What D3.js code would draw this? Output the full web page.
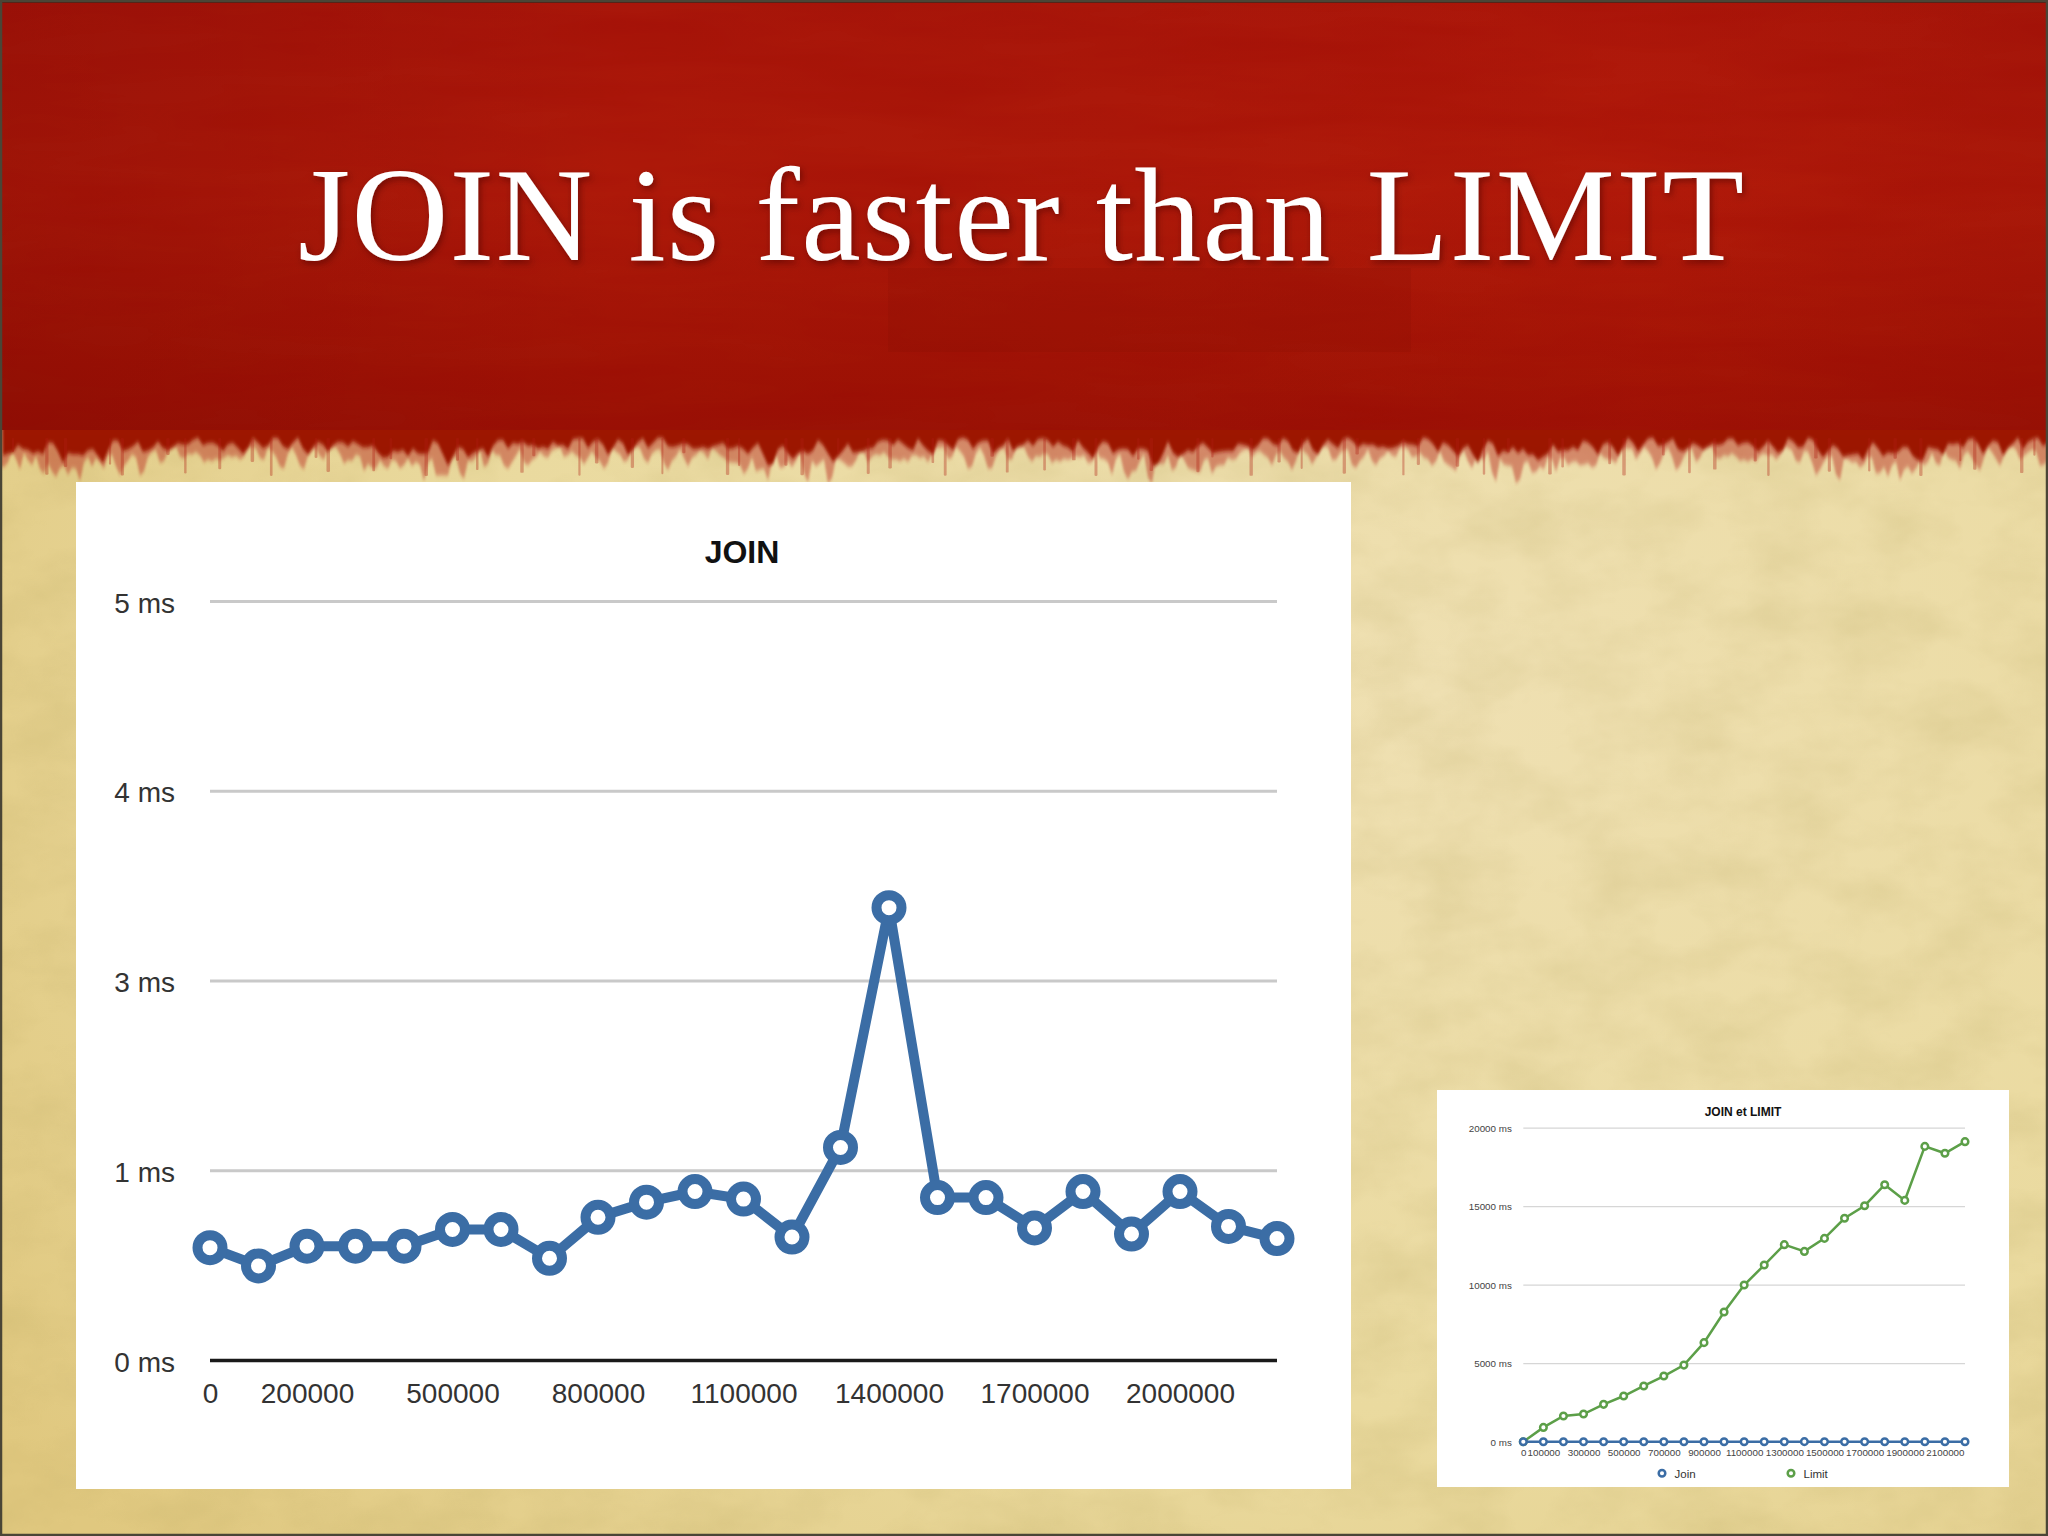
<!DOCTYPE html>
<html>
<head>
<meta charset="utf-8">
<script src="https://cdn.jsdelivr.net/npm/d3@7"></script>
<style>
  html, body { margin: 0; padding: 0; background: #000; }
  svg { display: block; }
</style>
</head>
<body>
<svg id="slide" width="2048" height="1536"></svg>
<script>
// ---------------- DATA ----------------
const slideTitle = "JOIN is faster than LIMIT";
const rowCounts = [0, 100000, 200000, 300000, 400000, 500000, 600000, 700000, 800000, 900000,
  1000000, 1100000, 1200000, 1300000, 1400000, 1500000, 1600000, 1700000, 1800000, 1900000,
  2000000, 2100000, 2200000];
const joinMs = [0.74, 0.62, 0.75, 0.75, 0.75, 0.86, 0.86, 0.67, 0.94, 1.04, 1.11, 1.06, 0.81,
  1.40, 2.98, 1.07, 1.07, 0.87, 1.11, 0.83, 1.11, 0.88, 0.80];
const limitMs = [0, 910, 1640, 1760, 2380, 2910, 3550, 4180, 4880, 6310, 8260, 9980, 11250,
  12550, 12120, 12950, 14230, 15030, 16370, 15370, 18810, 18370, 19110];

const mainTitle = "JOIN";
const mainYTicks = [0, 1.25, 2.5, 3.75, 5];
const mainYTickLabels = ["0 ms", "1 ms", "3 ms", "4 ms", "5 ms"];
const mainXTickLabels = [0, 200000, 500000, 800000, 1100000, 1400000, 1700000, 2000000];

const smallTitle = "JOIN et LIMIT";
const smallYTicks = [0, 5000, 10000, 15000, 20000];
const smallXTickLabels = [0, 100000, 300000, 500000, 700000, 900000, 1100000, 1300000,
  1500000, 1700000, 1900000, 2100000];
const seriesNames = ["Join", "Limit"];

// ---------------- STYLE ----------------
const BLUE = "#3b6da5";
const GREEN = "#5c9f48";
const svg = d3.select("#slide");
const defs = svg.append("defs");

const pg = defs.append("radialGradient").attr("id", "parch")
  .attr("cx", "70%").attr("cy", "45%").attr("r", "85%");
pg.append("stop").attr("offset", "0%").attr("stop-color", "#efe0b2");
pg.append("stop").attr("offset", "55%").attr("stop-color", "#eada9f");
pg.append("stop").attr("offset", "100%").attr("stop-color", "#e0c87f");

const rg = defs.append("linearGradient").attr("id", "redband")
  .attr("x1", 0).attr("y1", 0).attr("x2", 0).attr("y2", 1);
rg.append("stop").attr("offset", "0%").attr("stop-color", "#a8160a");
rg.append("stop").attr("offset", "45%").attr("stop-color", "#ae1a0a");
rg.append("stop").attr("offset", "85%").attr("stop-color", "#a01406");
rg.append("stop").attr("offset", "100%").attr("stop-color", "#9a1206");

const rgx = defs.append("linearGradient").attr("id", "redside")
  .attr("x1", 0).attr("y1", 0).attr("x2", 1).attr("y2", 0);
rgx.append("stop").attr("offset", "0%").attr("stop-color", "#5a0000").attr("stop-opacity", 0.18);
rgx.append("stop").attr("offset", "30%").attr("stop-color", "#5a0000").attr("stop-opacity", 0.0);
rgx.append("stop").attr("offset", "80%").attr("stop-color", "#ff3010").attr("stop-opacity", 0.05);
rgx.append("stop").attr("offset", "100%").attr("stop-color", "#5a0000").attr("stop-opacity", 0.06);

const nf = defs.append("filter").attr("id", "noise").attr("x", 0).attr("y", 0)
  .attr("width", "100%").attr("height", "100%");
nf.append("feTurbulence").attr("type", "fractalNoise").attr("baseFrequency", "0.012 0.02")
  .attr("numOctaves", 4).attr("seed", 7).attr("result", "t");
nf.append("feColorMatrix").attr("type", "matrix")
  .attr("values", "0 0 0 0 0.45  0 0 0 0 0.35  0 0 0 0 0.1  0 0 0 -1.6 1.05");

const nf2 = defs.append("filter").attr("id", "noise2").attr("x", 0).attr("y", 0)
  .attr("width", "100%").attr("height", "100%");
nf2.append("feTurbulence").attr("type", "fractalNoise").attr("baseFrequency", "0.004 0.03")
  .attr("numOctaves", 3).attr("seed", 3).attr("result", "t");
nf2.append("feColorMatrix").attr("type", "matrix")
  .attr("values", "0 0 0 0 0.3  0 0 0 0 0.0  0 0 0 0 0.0  0 0 0 -1.4 0.95");

const blur = defs.append("filter").attr("id", "soft").attr("x", "-2%").attr("y", "-50%")
  .attr("width", "104%").attr("height", "200%");
blur.append("feGaussianBlur").attr("stdDeviation", "1.2 2");

const sh = defs.append("filter").attr("id", "tshadow").attr("x", "-5%").attr("y", "-20%")
  .attr("width", "110%").attr("height", "140%");
sh.append("feDropShadow").attr("dx", 2).attr("dy", 3).attr("stdDeviation", 3)
  .attr("flood-color", "#3a0000").attr("flood-opacity", 0.5);

// ---------------- BACKGROUND ----------------
svg.append("rect").attr("width", 2048).attr("height", 1536).attr("fill", "url(#parch)");
svg.append("rect").attr("width", 2048).attr("height", 1536).attr("filter", "url(#noise)").attr("opacity", 0.2);

// red band with ragged bottom (decorative)
const bandBottom = 430;
function edgePath(base, amp, step, phase) {
  let p = `M0,0 L2048,0 L2048,${base}`;
  for (let x = 2048; x >= 0; x -= step) {
    const a = Math.abs(Math.sin(x * 0.137 + phase) * Math.sin(x * 0.041 + 1.3 + phase));
    const b = Math.max(0, Math.sin(x * 0.311 + 0.7 + phase));
    const c = Math.max(0, Math.sin(x * 0.0173 + 0.4)) * Math.abs(Math.sin(x * 0.53));
    const d = amp * (0.35 + 0.5 * a + 0.35 * b + 0.6 * c);
    p += ` L${x},${base + d}`;
  }
  return p + " Z";
}
// lighter fringe
svg.append("path").attr("d", edgePath(bandBottom + 6, 30, 4, 0.9)).attr("fill", "#b8281c")
  .attr("opacity", 0.45).attr("filter", "url(#soft)");
svg.append("path").attr("d", edgePath(bandBottom, 22, 5, 0)).attr("fill", "url(#redband)").attr("filter", "url(#soft)");
svg.append("rect").attr("width", 2048).attr("height", bandBottom).attr("fill", "url(#redband)");
svg.append("rect").attr("width", 2048).attr("height", bandBottom).attr("fill", "url(#redside)");
svg.append("rect").attr("width", 2048).attr("height", bandBottom).attr("filter", "url(#noise2)").attr("opacity", 0.25);
svg.append("rect").attr("x", 888).attr("y", 268).attr("width", 523).attr("height", 84)
  .attr("fill", "#6a0500").attr("opacity", 0.1);
// small drip streaks
for (let i = 0; i < 70; i++) {
  const x = 12 + i * 29.4 + 9 * Math.sin(i * 2.7);
  const len = 14 + 24 * Math.abs(Math.sin(i * 1.91));
  svg.append("rect").attr("x", x).attr("y", bandBottom + 8).attr("width", 2 + 1.5 * Math.abs(Math.sin(i)))
    .attr("height", len).attr("fill", "#b01c10").attr("opacity", 0.35).attr("rx", 1.2);
}
svg.append("rect").attr("width", 2048).attr("height", 3).attr("fill", "#5a1a10");

// title
svg.append("text").text(slideTitle)
  .attr("x", 1021).attr("y", 260)
  .attr("text-anchor", "middle")
  .attr("font-family", "'Liberation Serif', 'DejaVu Serif', serif")
  .attr("font-size", 134)
  .attr("textLength", 1446).attr("lengthAdjust", "spacing")
  .attr("fill", "#ffffff")
  .attr("filter", "url(#tshadow)");

// ---------------- MAIN CHART ----------------
svg.append("rect").attr("x", 76).attr("y", 482).attr("width", 1275).attr("height", 1007).attr("fill", "#ffffff");

const xM = d3.scalePoint().domain(rowCounts).range([210, 1277]);
const yM = d3.scaleLinear().domain([0, 5]).range([1360, 601]);

svg.append("text").text(mainTitle)
  .attr("x", 742).attr("y", 563).attr("text-anchor", "middle")
  .attr("font-family", "'Liberation Sans', Arial, sans-serif").attr("font-weight", "bold")
  .attr("font-size", 32).attr("fill", "#111");

const yAxisM = svg.append("g").attr("transform", `translate(${xM(rowCounts[0])},0)`)
  .call(d3.axisLeft(yM).tickValues(mainYTicks)
    .tickFormat((d, i) => mainYTickLabels[i])
    .tickSize(-(xM(rowCounts[rowCounts.length - 1]) - xM(rowCounts[0])))
    .tickPadding(35));
yAxisM.select(".domain").remove();
yAxisM.selectAll(".tick line").attr("stroke", "#c9c9c9").attr("stroke-width", 3);
yAxisM.selectAll(".tick").filter(d => d === 0).select("line").attr("stroke", "#1a1a1a").attr("stroke-width", 3.5);
yAxisM.selectAll(".tick text").attr("font-family", "'Liberation Sans', Arial, sans-serif")
  .attr("font-size", 28).attr("fill", "#333").attr("dy", "0.4em");

const xAxisM = svg.append("g").attr("transform", `translate(0,${yM(0)})`)
  .call(d3.axisBottom(xM).tickValues(mainXTickLabels).tickSize(0).tickFormat(d3.format("d")));
xAxisM.select(".domain").remove();
xAxisM.selectAll(".tick text").attr("font-family", "'Liberation Sans', Arial, sans-serif")
  .attr("font-size", 28).attr("fill", "#333").attr("y", 43).attr("dy", null);

const lineM = d3.line().x((d, i) => xM(rowCounts[i])).y(d => yM(d));
svg.append("path").datum(joinMs).attr("d", lineM)
  .attr("fill", "none").attr("stroke", BLUE).attr("stroke-width", 10).attr("stroke-linejoin", "round");
svg.append("g").selectAll("circle").data(joinMs).join("circle")
  .attr("cx", (d, i) => xM(rowCounts[i])).attr("cy", d => yM(d)).attr("r", 12.5)
  .attr("fill", "#fff").attr("stroke", BLUE).attr("stroke-width", 10);

// ---------------- SMALL CHART ----------------
svg.append("rect").attr("x", 1437).attr("y", 1090).attr("width", 572).attr("height", 397).attr("fill", "#ffffff");

const xS = d3.scalePoint().domain(rowCounts).range([1523.3, 1965]);
const yS = d3.scaleLinear().domain([0, 20000]).range([1441.7, 1127.7]);

svg.append("text").text(smallTitle)
  .attr("x", 1743).attr("y", 1115.5).attr("text-anchor", "middle")
  .attr("font-family", "'Liberation Sans', Arial, sans-serif").attr("font-weight", "bold")
  .attr("font-size", 12).attr("fill", "#111");

const yAxisS = svg.append("g").attr("transform", `translate(${xS(rowCounts[0])},0)`)
  .call(d3.axisLeft(yS).tickValues(smallYTicks)
    .tickFormat(d => d + " ms")
    .tickSize(-(xS(rowCounts[rowCounts.length - 1]) - xS(rowCounts[0])))
    .tickPadding(11.5));
yAxisS.select(".domain").remove();
yAxisS.selectAll(".tick line").attr("stroke", "#d6d6d6").attr("stroke-width", 1.3);
yAxisS.selectAll(".tick").filter(d => d === 0).select("line").attr("stroke", "#333").attr("stroke-width", 1.3);
yAxisS.selectAll(".tick text").attr("font-family", "'Liberation Sans', Arial, sans-serif")
  .attr("font-size", 9.8).attr("fill", "#444").attr("dy", "0.35em");

const xAxisS = svg.append("g").attr("transform", `translate(0,${yS(0)})`)
  .call(d3.axisBottom(xS).tickValues(smallXTickLabels).tickSize(0).tickFormat(d3.format("d")));
xAxisS.select(".domain").remove();
xAxisS.selectAll(".tick text").attr("font-family", "'Liberation Sans', Arial, sans-serif")
  .attr("font-size", 9.8).attr("fill", "#444").attr("y", 14.5).attr("dy", null);

const lineS = d3.line().x((d, i) => xS(rowCounts[i])).y(d => yS(d));
const smallSeries = [
  { name: seriesNames[1], values: limitMs, color: GREEN },
  { name: seriesNames[0], values: joinMs, color: BLUE }
];
smallSeries.forEach(s => {
  svg.append("path").datum(s.values).attr("d", lineS)
    .attr("fill", "none").attr("stroke", s.color).attr("stroke-width", 2.5);
  svg.append("g").selectAll("circle").data(s.values).join("circle")
    .attr("cx", (d, i) => xS(rowCounts[i])).attr("cy", d => yS(d)).attr("r", 3.3)
    .attr("fill", "#fff").attr("stroke", s.color).attr("stroke-width", 2.5);
});

const legendItems = [
  { name: seriesNames[0], color: BLUE, x: 1662 },
  { name: seriesNames[1], color: GREEN, x: 1791 }
];
legendItems.forEach(l => {
  svg.append("circle").attr("cx", l.x).attr("cy", 1473.3).attr("r", 3.3)
    .attr("fill", "#fff").attr("stroke", l.color).attr("stroke-width", 2.5);
  svg.append("text").text(l.name).attr("x", l.x + 12.5).attr("y", 1477.5)
    .attr("font-family", "'Liberation Sans', Arial, sans-serif")
    .attr("font-size", 11.5).attr("fill", "#333");
});

svg.append("rect").attr("x", 1).attr("y", 1).attr("width", 2046).attr("height", 1534)
  .attr("fill", "none").attr("stroke", "#4a4536").attr("stroke-width", 2.5);
</script>
</body>
</html>
